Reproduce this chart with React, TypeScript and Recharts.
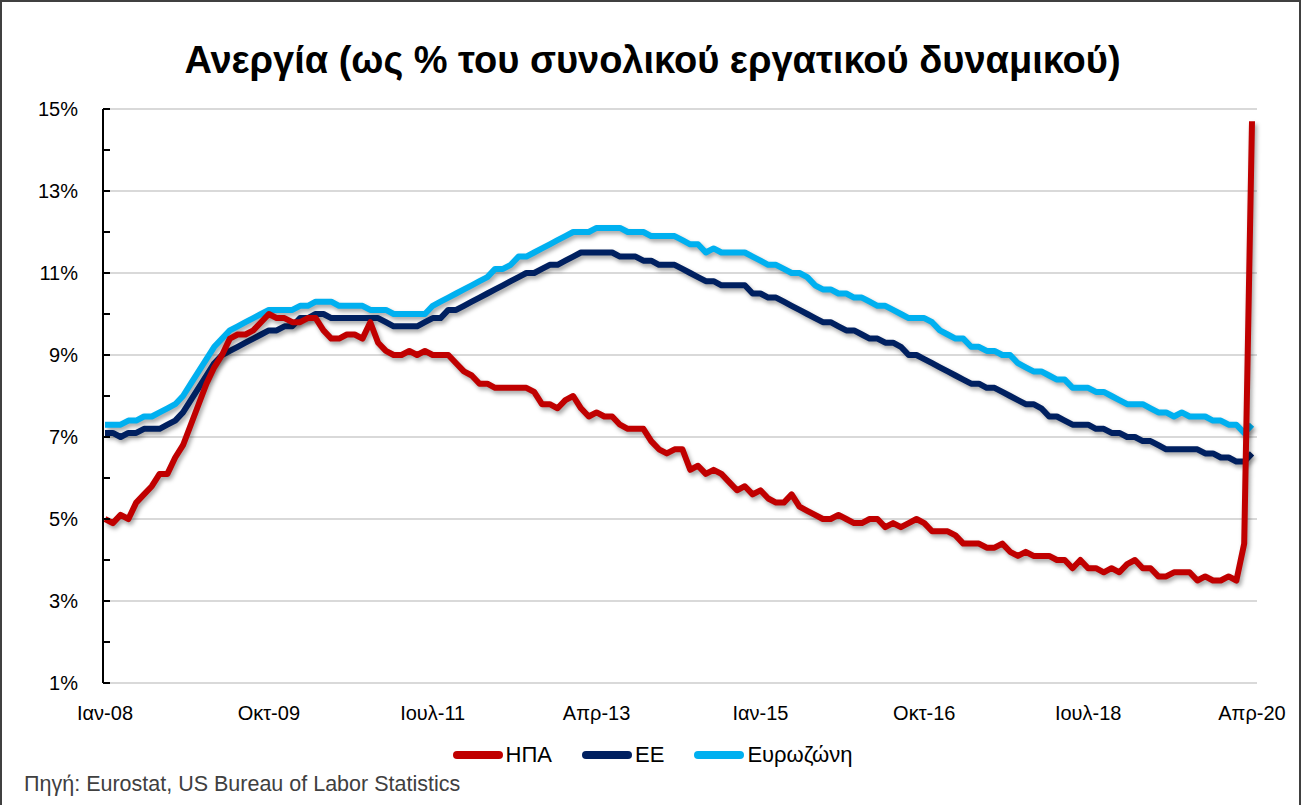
import { LineChart, Line, XAxis, YAxis, CartesianGrid } from "recharts";

const FONT = '"Liberation Sans", Arial, sans-serif';

const MONTHS = ["Ιαν", "Φεβ", "Μαρ", "Απρ", "Μαϊ", "Ιουν", "Ιουλ", "Αυγ", "Σεπ", "Οκτ", "Νοε", "Δεκ"];
const YEARS = ["08", "09", "10", "11", "12", "13", "14", "15", "16", "17", "18", "19", "20"];

// ΗΠΑ
const US = [
  5.0, 4.9, 5.1, 5.0, 5.4, 5.6, 5.8, 6.1, 6.1, 6.5, 6.8, 7.3,
  7.8, 8.3, 8.7, 9.0, 9.4, 9.5, 9.5, 9.6, 9.8, 10.0, 9.9, 9.9,
  9.8, 9.8, 9.9, 9.9, 9.6, 9.4, 9.4, 9.5, 9.5, 9.4, 9.8, 9.3,
  9.1, 9.0, 9.0, 9.1, 9.0, 9.1, 9.0, 9.0, 9.0, 8.8, 8.6, 8.5,
  8.3, 8.3, 8.2, 8.2, 8.2, 8.2, 8.2, 8.1, 7.8, 7.8, 7.7, 7.9,
  8.0, 7.7, 7.5, 7.6, 7.5, 7.5, 7.3, 7.2, 7.2, 7.2, 6.9, 6.7,
  6.6, 6.7, 6.7, 6.2, 6.3, 6.1, 6.2, 6.1, 5.9, 5.7, 5.8, 5.6,
  5.7, 5.5, 5.4, 5.4, 5.6, 5.3, 5.2, 5.1, 5.0, 5.0, 5.1, 5.0,
  4.9, 4.9, 5.0, 5.0, 4.8, 4.9, 4.8, 4.9, 5.0, 4.9, 4.7, 4.7,
  4.7, 4.6, 4.4, 4.4, 4.4, 4.3, 4.3, 4.4, 4.2, 4.1, 4.2, 4.1,
  4.1, 4.1, 4.0, 4.0, 3.8, 4.0, 3.8, 3.8, 3.7, 3.8, 3.7, 3.9,
  4.0, 3.8, 3.8, 3.6, 3.6, 3.7, 3.7, 3.7, 3.5, 3.6, 3.5, 3.5,
  3.6, 3.5, 4.4, 14.7,
];

// ΕΕ
const EU = [
  7.1, 7.1, 7.0, 7.1, 7.1, 7.2, 7.2, 7.2, 7.3, 7.4, 7.6, 7.9,
  8.2, 8.5, 8.8, 9.0, 9.1, 9.2, 9.3, 9.4, 9.5, 9.6, 9.6, 9.7,
  9.7, 9.9, 9.9, 10.0, 10.0, 9.9, 9.9, 9.9, 9.9, 9.9, 9.9, 9.9,
  9.8, 9.7, 9.7, 9.7, 9.7, 9.8, 9.9, 9.9, 10.1, 10.1, 10.2, 10.3,
  10.4, 10.5, 10.6, 10.7, 10.8, 10.9, 11.0, 11.0, 11.1, 11.2, 11.2, 11.3,
  11.4, 11.5, 11.5, 11.5, 11.5, 11.5, 11.4, 11.4, 11.4, 11.3, 11.3, 11.2,
  11.2, 11.2, 11.1, 11.0, 10.9, 10.8, 10.8, 10.7, 10.7, 10.7, 10.7, 10.5,
  10.5, 10.4, 10.4, 10.3, 10.2, 10.1, 10.0, 9.9, 9.8, 9.8, 9.7, 9.6,
  9.6, 9.5, 9.4, 9.4, 9.3, 9.3, 9.2, 9.0, 9.0, 8.9, 8.8, 8.7,
  8.6, 8.5, 8.4, 8.3, 8.3, 8.2, 8.2, 8.1, 8.0, 7.9, 7.8, 7.8,
  7.7, 7.5, 7.5, 7.4, 7.3, 7.3, 7.3, 7.2, 7.2, 7.1, 7.1, 7.0,
  7.0, 6.9, 6.9, 6.8, 6.7, 6.7, 6.7, 6.7, 6.7, 6.6, 6.6, 6.5,
  6.5, 6.4, 6.4, 6.6,
];

// Ευρωζώνη
const EA = [
  7.3, 7.3, 7.3, 7.4, 7.4, 7.5, 7.5, 7.6, 7.7, 7.8, 8.0, 8.3,
  8.6, 8.9, 9.2, 9.4, 9.6, 9.7, 9.8, 9.9, 10.0, 10.1, 10.1, 10.1,
  10.1, 10.2, 10.2, 10.3, 10.3, 10.3, 10.2, 10.2, 10.2, 10.2, 10.1, 10.1,
  10.1, 10.0, 10.0, 10.0, 10.0, 10.0, 10.2, 10.3, 10.4, 10.5, 10.6, 10.7,
  10.8, 10.9, 11.1, 11.1, 11.2, 11.4, 11.4, 11.5, 11.6, 11.7, 11.8, 11.9,
  12.0, 12.0, 12.0, 12.1, 12.1, 12.1, 12.1, 12.0, 12.0, 12.0, 11.9, 11.9,
  11.9, 11.9, 11.8, 11.7, 11.7, 11.5, 11.6, 11.5, 11.5, 11.5, 11.5, 11.4,
  11.3, 11.2, 11.2, 11.1, 11.0, 11.0, 10.9, 10.7, 10.6, 10.6, 10.5, 10.5,
  10.4, 10.4, 10.3, 10.2, 10.2, 10.1, 10.0, 9.9, 9.9, 9.9, 9.8, 9.6,
  9.5, 9.4, 9.4, 9.2, 9.2, 9.1, 9.1, 9.0, 9.0, 8.8, 8.7, 8.6,
  8.6, 8.5, 8.4, 8.4, 8.2, 8.2, 8.2, 8.1, 8.1, 8.0, 7.9, 7.8,
  7.8, 7.8, 7.7, 7.6, 7.6, 7.5, 7.6, 7.5, 7.5, 7.5, 7.4, 7.4,
  7.3, 7.3, 7.1, 7.3,
];

const Y_TICKS = [1, 2, 3, 4, 5, 6, 7, 8, 9, 10, 11, 12, 13, 14, 15];
const GRID_VALUES = [1, 3, 5, 7, 9, 11, 13, 15];

const SERIES = [
  { key: "ea", name: "Ευρωζώνη", color: "#00B0F0" },
  { key: "eu", name: "ΕΕ", color: "#002060" },
  { key: "us", name: "ΗΠΑ", color: "#C00000" },
];
const LEGEND_ORDER = ["us", "eu", "ea"];

const data = US.map((v, i) => ({
  month: `${MONTHS[i % 12]}-${YEARS[Math.floor(i / 12)]}`,
  us: v,
  eu: EU[i],
  ea: EA[i],
}));

function YTick(props: any) {
  const { x, y, payload } = props;
  const v = payload.value;
  return (
    <g>
      <line x1={x} x2={x + 7} y1={y} y2={y} stroke="#000" strokeWidth={2} />
      {v % 2 === 1 && (
        <text x={x - 25} y={y} dy={7} textAnchor="end" fontSize={20} fontFamily={FONT} fill="#000">
          {v}%
        </text>
      )}
    </g>
  );
}

export default function App() {
  return (
    <div
      style={{
        position: "relative",
        width: 1301,
        height: 805,
        boxSizing: "border-box",
        borderTop: "2px solid #404040",
        borderLeft: "2px solid #404040",
        borderRight: "2px solid #404040",
        background: "#fff",
        fontFamily: FONT,
      }}
    >
      <style>{"body{margin:0} .shadowed path{filter:drop-shadow(2px 3px 2px rgba(0,0,0,0.35));}"}</style>
      <div
        style={{
          position: "absolute",
          top: 37,
          left: 0,
          width: 1301,
          textAlign: "center",
          fontSize: 38,
          fontWeight: "bold",
          color: "#000",
        }}
      >
        Ανεργία (ως % του συνολικού εργατικού δυναμικού)
      </div>
      <div style={{ position: "absolute", top: -2, left: -2 }}>
        <LineChart width={1301} height={805} data={data} margin={{ top: 109, right: 44, bottom: 92, left: 0 }}>
          <CartesianGrid vertical={false} horizontalValues={GRID_VALUES} stroke="#d9d9d9" strokeWidth={2} />
          <XAxis
            dataKey="month"
            interval={20}
            axisLine={false}
            tickLine={false}
            tickSize={0}
            tickMargin={23}
            height={30}
            padding={{ left: 2, right: 5 }}
            tick={{ fontSize: 20, fontFamily: FONT, fill: "#000" }}
          />
          <YAxis
            type="number"
            domain={[1, 15]}
            ticks={Y_TICKS}
            width={103}
            interval={0}
            tickSize={0}
            tickMargin={0}
            axisLine={{ stroke: "#000", strokeWidth: 2 }}
            tickLine={false}
            tick={<YTick />}
          />
          {SERIES.map((s) => (
            <Line
              key={s.key}
              className="shadowed"
              type="linear"
              dataKey={s.key}
              name={s.name}
              stroke={s.color}
              strokeWidth={6}
              strokeLinejoin="round"
              dot={false}
              activeDot={false}
              isAnimationActive={false}
            />
          ))}
        </LineChart>
      </div>
      <div
        style={{
          position: "absolute",
          top: 740,
          left: 0,
          width: 1301,
          display: "flex",
          justifyContent: "center",
          gap: 30,
          fontSize: 22,
          color: "#000",
        }}
      >
        {LEGEND_ORDER.map((k) => {
          const s = SERIES.find((x) => x.key === k)!;
          return (
            <div key={k} style={{ display: "flex", alignItems: "center", gap: 3 }}>
              <span
                style={{
                  display: "inline-block",
                  width: 50,
                  height: 8,
                  borderRadius: 4,
                  background: s.color,
                }}
              />
              <span>{s.name}</span>
            </div>
          );
        })}
      </div>
      <div style={{ position: "absolute", top: 770, left: 22, fontSize: 21.5, color: "#404040" }}>
        Πηγή: Eurostat, US Bureau of Labor Statistics
      </div>
    </div>
  );
}
